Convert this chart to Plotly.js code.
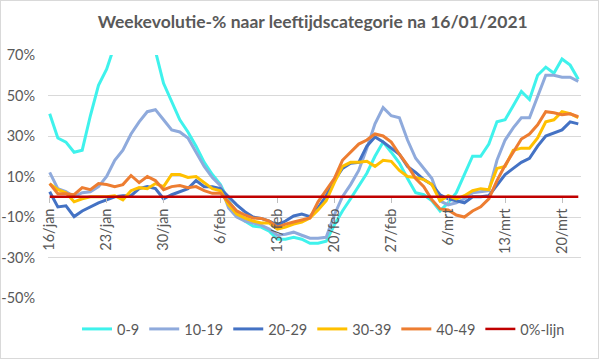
<!DOCTYPE html>
<html>
<head>
<meta charset="utf-8">
<script src="https://cdn.plot.ly/plotly-3.0.1.min.js"></script>
<style>
  html, body { margin: 0; padding: 0; background: #fff; }
  #wrap { position: relative; width: 599px; height: 359px; }
  #chart { width: 599px; height: 359px; }
  #frame { position: absolute; left: 0; top: 0; width: 599px; height: 359px; box-sizing: border-box; border: 1px solid #d9d9d9; pointer-events: none; }
</style>
</head>
<body>
<div id="wrap"><div id="chart"></div><div id="frame"></div></div>
<script>
// ---- data (weekly evolution in %) ----
const startDate = '2021-01-16';
const nDays = 66;

const age0_9 = [41,29,27,22,23, 40,55,63,75,85, 92,90,82,72,56, 47,38,32,25,17, 11,6,-2,-8,-12, -14.5,-15,-17,-21,-21, -20,-21,-23,-23,-22, -14,-7,-1,5,11.6, 20,27,22,16.6,9, 2,1,-2,-7,-3, 2,11,20,20,26, 37,38,45,52,48, 60,64,61,68,65, 58];
const age10_19 = [12,4,2.5,0,2, 2.5,5,10,18,23, 31,37,42,43,38, 33,32,29,22,15, 9.5,5.5,-5.5,-10,-12, -13,-14,-16,-19,-18.5, -17.5,-19,-20.5,-20.5,-20, -9,0,6,13,24, 36,44,40,39,28, 19,14,9,-2,-4, -3,-1,2,2.5,3, 18,28,34,39,39, 50,60,60,59,59, 57];
const age20_29 = [2.5,-5,-4.5,-9.8,-7, -5,-3,-1.5,0,0.5, 0.5,4,5,4,-1, 1,2.5,4,8,5, 5,4,0,-4,-7.4, -10,-10.7,-12,-14,-12, -9.5,-8.5,-9.8,-5.5,0.5, 8,14,16.5,17,25, 29.5,27,24,21,15, 12,8.5,6,1,-1, -2,-3,0,0,0.5, 6,11,14,17,19, 25,30,31.5,33,37, 36];
const age30_39 = [6.5,3.5,2,-2.5,-1, 0,0,0,0.5,-1.5, 3,4.5,4,6.5,5, 11,11,9.5,10,7, 4,3,-4,-8.5,-10.5, -12,-13,-13,-16,-15, -13.5,-12.5,-10.5,-6.5,-2, 7,15,17,17,17.5, 15,18,17.5,13,10, 9.5,8.5,6,-2,0.5, -1,0.5,3,4,3.5, 14,15,23,24,24, 29,37,38,42,41, 39];
const age40_49 = [6.5,1.5,1.5,1,4.5, 3.5,6.5,6,5,6, 10.5,7,10,8,3.5, 5,5.5,4.5,5,3, 1.7,1.7,-2.5,-7,-9, -10.5,-10.7,-12,-15,-13.5, -12.5,-11.5,-10.5,-2.5,3, 9,18,22,26,28, 31,30,27,21,15.5, 9,5,-1.5,-6,-6.5, -9,-10,-7,-5,-1, 8,15.5,22,28.5,31, 35.5,42,41.5,40.5,41, 39.5];
const zeroLine = new Array(nDays).fill(0);

const seriesNames = ['0-9','10-19','20-29','30-39','40-49','0%-lijn'];
const seriesColors = ['#3FF2EC','#8FAADC','#4472C4','#FFC000','#ED7D31','#C00000'];

const tickDates = ['2021-01-16','2021-01-23','2021-01-30','2021-02-06','2021-02-13','2021-02-20','2021-02-27','2021-03-06','2021-03-13','2021-03-20'];
const tickLabels = ['16/jan','23/jan','30/jan','6/feb','13/feb','20/feb','27/feb','6/mrt','13/mrt','20/mrt'];
const yTicks = [-50,-30,-10,10,30,50,70];
const yTickLabels = ['-50%','-30%','-10%','10%','30%','50%','70%'];

// ---- categories: consecutive days ----
const dates = [];
{
  const d0 = new Date(startDate + 'T00:00:00Z');
  for (let i = 0; i < nDays; i++) {
    const d = new Date(d0.getTime() + i * 86400000);
    dates.push(d.toISOString().slice(0, 10));
  }
}

const allSeries = [age0_9, age10_19, age20_29, age30_39, age40_49, zeroLine];
const traces = allSeries.map((vals, k) => ({
  type: 'scatter',
  mode: 'lines',
  x: dates,
  y: vals,
  name: seriesNames[k],
  line: { color: seriesColors[k], width: k === 5 ? 2.5 : 3 },
  hoverinfo: 'skip'
}));

const font = { family: 'Lato, "Open Sans", sans-serif', size: 14.5, color: '#595959' };

const layout = {
  width: 599,
  height: 359,
  margin: { l: 48, r: 18, t: 55, b: 61 },
  paper_bgcolor: '#ffffff',
  plot_bgcolor: '#ffffff',
  font: font,
  showlegend: true,
  title: {
    text: 'Weekevolutie-% naar leeftijdscategorie na 16/01/2021',
    font: { family: 'Lato, "Open Sans", sans-serif', size: 17.5, color: '#595959', weight: 'bold' },
    xref: 'container', x: 0.522, xanchor: 'center',
    yref: 'container', y: 1 - 22 / 359, yanchor: 'middle'
  },
  xaxis: {
    type: 'date',
    range: ['2021-01-15 19:00', '2021-03-22 08:00'],
    anchor: 'free',
    position: 50 / 120,
    tickmode: 'array',
    tickvals: tickDates,
    ticktext: tickLabels,
    tickangle: -90,
    ticks: 'outside',
    ticklen: 5,
    tickcolor: '#BFBFBF',
    showgrid: false,
    showline: false,
    zeroline: false,
    tickfont: font,
    fixedrange: true
  },
  yaxis: {
    range: [-50, 70],
    tickmode: 'array',
    tickvals: yTicks,
    ticktext: yTickLabels,
    showgrid: true,
    gridcolor: '#D9D9D9',
    gridwidth: 1,
    zeroline: false,
    showline: false,
    ticks: 'outside',
    ticklen: 9,
    tickcolor: 'rgba(0,0,0,0)',
    tickfont: font,
    fixedrange: true
  },
  legend: {
    orientation: 'h',
    xref: 'container', x: 77 / 599, xanchor: 'left',
    yref: 'container', y: 1 - 329 / 359, yanchor: 'middle',
    font: font,
    bgcolor: 'rgba(0,0,0,0)',
    traceorder: 'normal'
  }
};

Plotly.newPlot('chart', traces, layout, { displayModeBar: false, staticPlot: true });
</script>
</body>
</html>
